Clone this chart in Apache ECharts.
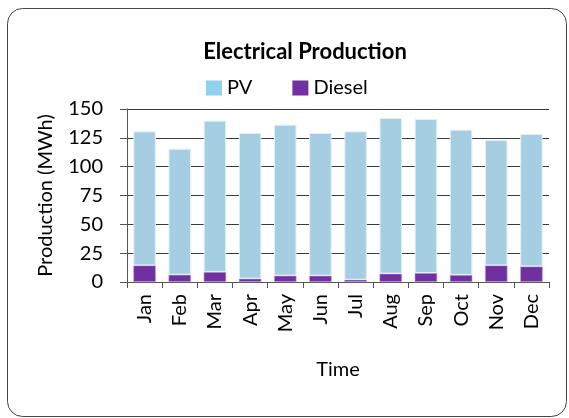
<!DOCTYPE html>
<html>
<head>
<meta charset="utf-8">
<script src="https://cdn.jsdelivr.net/npm/echarts@6/dist/echarts.min.js"></script>
<style>
html,body{margin:0;padding:0;background:#fff;}
#chart{width:569px;height:418px;}
</style>
</head>
<body>
<div id="chart"></div>
<script>
var categories = ['Jan','Feb','Mar','Apr','May','Jun','Jul','Aug','Sep','Oct','Nov','Dec'];
var dieselValues = [14.4, 6.3, 8.7, 2.9, 5.5, 5.5, 2.0, 7.2, 7.8, 6.1, 14.4, 13.5];
var pvValues = [116.2, 109.3, 131.2, 126.3, 130.9, 123.7, 128.6, 135.0, 133.5, 126.0, 108.7, 114.8];
var yTicks = [0, 25, 50, 75, 100, 125, 150];

var FONT = 'Lato';
var chart = echarts.init(document.getElementById('chart'), null, {renderer: 'canvas'});
chart.setOption({
  animation: false,
  backgroundColor: '#ffffff',
  textStyle: {fontFamily: FONT, color: '#000'},
  title: {
    text: 'Electrical Production',
    left: 300, top: 36, textAlign: 'center',
    textStyle: {fontFamily: FONT, fontSize: 22, fontWeight: 'bold', color: '#000'}
  },
  legend: {
    left: 206, top: 78, padding: 0,
    icon: 'rect',
    itemWidth: 16, itemHeight: 15, itemGap: 40,
    textStyle: {fontFamily: FONT, fontSize: 20, color: '#000'},
    data: [
      {name: 'PV', itemStyle: {color: '#92D0EF', borderWidth: 0}},
      {name: 'Diesel', itemStyle: {color: '#7030A0', borderWidth: 0}}
    ]
  },
  grid: {left: 127, right: 20, top: 109, bottom: 136, containLabel: false},
  xAxis: {
    type: 'category',
    data: categories,
    name: 'Time',
    nameLocation: 'middle',
    nameGap: 78,
    nameTextStyle: {fontFamily: FONT, fontSize: 20, color: '#000'},
    axisLine: {lineStyle: {color: '#555', width: 1}},
    axisTick: {show: true, length: 6, lineStyle: {color: '#555'}},
    axisLabel: {rotate: 90, margin: 12, fontFamily: FONT, fontSize: 20, color: '#000'}
  },
  yAxis: {
    type: 'value',
    min: yTicks[0], max: yTicks[yTicks.length - 1], interval: 25,
    name: 'Production (MWh)',
    nameLocation: 'middle',
    nameGap: 71,
    nameTextStyle: {fontFamily: FONT, fontSize: 20, color: '#000'},
    axisLine: {show: true, lineStyle: {color: '#555', width: 1}},
    axisTick: {show: true, length: 7, lineStyle: {color: '#555'}},
    axisLabel: {margin: 24, fontFamily: FONT, fontSize: 20, color: '#000'},
    splitLine: {show: true, lineStyle: {color: '#3a3a3a', width: 1}}
  },
  series: [
    {
      name: 'Diesel', type: 'bar', stack: 'total',
      data: dieselValues,
      barWidth: '64%',
      itemStyle: {color: '#7030A0', borderColor: '#c9b0dd', borderWidth: 0.6}
    },
    {
      name: 'PV', type: 'bar', stack: 'total',
      data: pvValues,
      barWidth: '64%',
      itemStyle: {color: '#A6CEE3', borderColor: '#e2f0f8', borderWidth: 1}
    }
  ],
  graphic: [{
    type: 'rect',
    shape: {x: 7.5, y: 8.5, width: 559, height: 408, r: 15},
    style: {fill: 'none', stroke: '#444', lineWidth: 1},
    silent: true,
    z: 100
  }]
});
</script>
</body>
</html>
